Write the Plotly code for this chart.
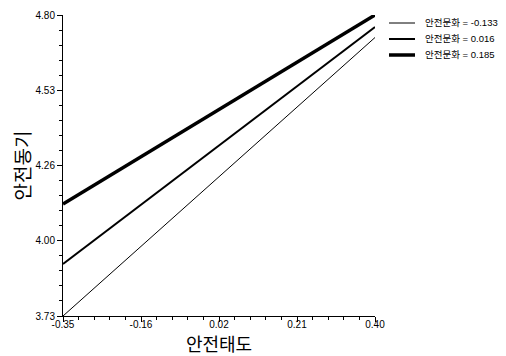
import plotly.graph_objects as go

x_vals = [-0.35, 0.40]
series_names = ["안전문화 = -0.133", "안전문화 = 0.016", "안전문화 = 0.185"]
y_low = [3.73, 3.915, 4.128]
y_high = [4.72, 4.757, 4.80]
series_values = [[y_low[i], y_high[i]] for i in range(3)]
line_widths = [1, 2, 3.5]

x_tickvals = [-0.35, -0.1625, 0.025, 0.2125, 0.40]
x_ticktext = ["-0.35", "-0.16", "0.02", "0.21", "0.40"]
y_tickvals = [3.73, 3.9975, 4.265, 4.5325, 4.80]
y_ticktext = ["3.73", "4.00", "4.26", "4.53", "4.80"]

font_main = "Liberation Sans, Arial, Noto Sans CJK KR"

fig = go.Figure()
for name, vals, w in zip(series_names, series_values, line_widths):
    fig.add_trace(go.Scatter(x=x_vals, y=vals, mode="lines", name=name,
                             line=dict(color="black", width=w), showlegend=False))

# manual legend (positions relative to plot area, in px)
L, H, W, B = 63, 301, 312, 316
leg_rows = [23, 39, 55]
for name, w, row in zip(series_names, line_widths, leg_rows):
    yp = (B - row) / H
    fig.add_shape(type="line", xref="paper", yref="paper",
                  x0=(389 - L) / W, x1=(415 - L) / W, y0=yp, y1=yp,
                  line=dict(color="black", width=w))
    fig.add_annotation(xref="paper", yref="paper", x=(423 - L) / W, y=yp,
                       xanchor="left", yanchor="middle", text=name, showarrow=False,
                       font=dict(size=9.5, color="black", family=font_main))

axis_common = dict(showgrid=False, zeroline=False, showline=True, linecolor="black",
                   linewidth=1, ticks="outside", ticklen=5, tickcolor="black",
                   tickfont=dict(size=10, color="black", family=font_main))

fig.update_xaxes(range=[-0.35, 0.40], tickmode="array", tickvals=x_tickvals,
                 ticktext=x_ticktext, ticklabelstandoff=-6,
                 minor=dict(ticks="outside", ticklen=3, tickmode="linear",
                            tick0=-0.35, dtick=0.0375, tickcolor="black"),
                 title=dict(text="안전태도", font=dict(size=18, color="black",
                            family="Noto Sans CJK KR"), standoff=1),
                 **axis_common)
fig.update_yaxes(range=[3.73, 4.80], tickmode="array", tickvals=y_tickvals,
                 ticktext=y_ticktext,
                 minor=dict(ticks="outside", ticklen=3, tickmode="linear",
                            tick0=3.73, dtick=0.0535, tickcolor="black"),
                 title=dict(text="안전동기", font=dict(size=19, color="black",
                            family="Noto Sans CJK KR"), standoff=14),
                 **axis_common)

# page body has an 8px margin: shrink the figure to fit the window
fig.update_layout(
    width=498, height=348,
    margin=dict(l=55, r=131, t=7, b=40, autoexpand=False),
    plot_bgcolor="white", paper_bgcolor="white",
    showlegend=False,
)

fig.write_html("out.html")
